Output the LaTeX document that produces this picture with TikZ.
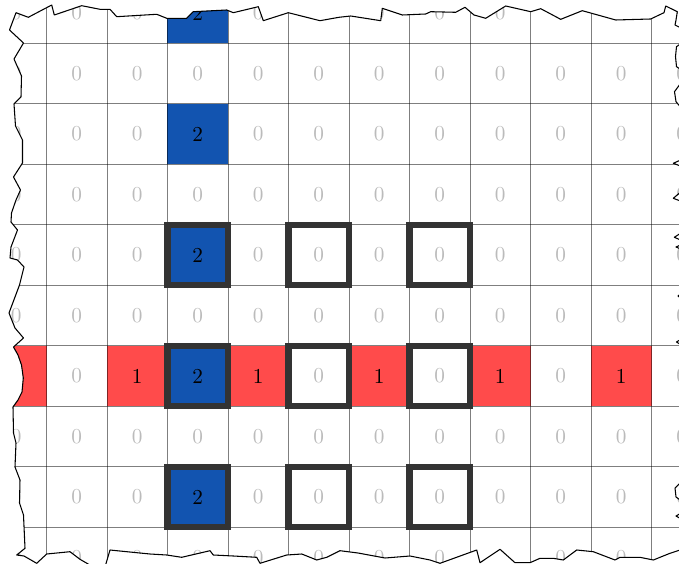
\documentclass[tikz,border=0pt]{standalone}
\definecolor{cred}{HTML}{FF4B4B}
\definecolor{cblue}{HTML}{1254B0}
\definecolor{czero}{HTML}{BBBBBB}
\definecolor{cbox}{HTML}{333333}
\def\bordpath{(16,12.7) -- (28.3,17.3) -- (51.7,5) -- (54.3,15) -- (81.7,5.7) -- (100,9.3) -- (110,9.3) -- (116.7,16.7) -- (156.7,14.3) -- (166.7,18.3) -- (186.7,18.3) -- (193.3,11.7) -- (226.7,10) -- (233.3,12.7) -- (258.3,6.7) -- (263.3,20.7) -- (288.3,12.7) -- (320,20.7) -- (339,17.3) -- (350.7,16) -- (380.7,20.7) -- (382.3,8.3) -- (402.3,15) -- (425.7,14) -- (430.7,11.7) -- (455.7,12.3) -- (465,7.3) -- (474,15) -- (485.7,18.3) -- (505.7,6) -- (530.7,11.7) -- (540.7,8.7) -- (560.7,19.3) -- (582.3,10.7) -- (615.7,20) -- (650.7,19) -- (664,12.7) -- (665.7,6) -- (677.3,11.7)
 -- (676,20) -- (675,25) -- (683,29) -- (683,42) -- (676.5,46.7) -- (675.5,56.7) -- (676.5,66.7) -- (683,71) -- (683,80) -- (674.5,91.7) -- (676,101.7) -- (683,110) -- (683,159) -- (673.3,163.3) -- (683,167) -- (683,190) -- (673.3,198.3) -- (683,202) -- (683,231.7) -- (674.3,237.3) -- (683,241) -- (683,244) -- (676,247) -- (683,250) -- (683,292) -- (678,296) -- (683,300) -- (683,338) -- (676.5,342) -- (683,346) -- (683,480) -- (675,488) -- (676,497) -- (683,502) -- (683,512) -- (676,516) -- (683,520) -- (683,549)
 -- (670,553.3) -- (653.3,560) -- (640,557.3) -- (620,557.3) -- (615,560) -- (593.3,551.7) -- (576.7,550) -- (563.3,560) -- (553.3,558.3) -- (540,558.3) -- (530,562.7) -- (515,562.7) -- (500,549.3) -- (480,562.7) -- (476.7,550) -- (440,563.3) -- (430,560) -- (410,556) -- (385,558) -- (358,553) -- (340,550.7) -- (326.7,557.3) -- (316.7,560) -- (301.7,554) -- (286.7,555) -- (260,563.3) -- (256.7,557.3) -- (233.3,556) -- (213.3,555) -- (210,550.7) -- (181.7,557.3) -- (166.7,555) -- (150,554) -- (126.7,551.7) -- (110,550) -- (105,567) -- (93.3,567) -- (80,559.3) -- (70,551.7) -- (46.7,554) -- (36.7,563.3) -- (24,556) -- (16.7,555) -- (25,548.3)
 -- (23.5,515) -- (19.5,503) -- (20,480) -- (15,467) -- (16,443) -- (13.5,433) -- (13,407) -- (18,400) -- (22,392) -- (23.3,378) -- (21.5,365) -- (18,355) -- (13.5,347) -- (23.5,338) -- (15,328) -- (9,313) -- (15,297) -- (19.5,285) -- (24,267) -- (17.5,260) -- (10,258) -- (11,247) -- (17.5,230) -- (11,222) -- (11.5,213) -- (16,200) -- (20.5,190) -- (13.5,177) -- (22.5,163) -- (22.5,140) -- (15.5,126) -- (14,104) -- (21,97) -- (21.5,76) -- (14,59) -- (23.5,43) -- (9.5,30) -- cycle}
\begin{document}
\begin{tikzpicture}[x=0.0165289cm,y=-0.0165289cm,
  cell/.style={minimum size=1cm,inner sep=0pt,outer sep=0pt,anchor=center},
  zero/.style={cell,text=czero},
  one/.style={cell,fill=cred,text=black},
  two/.style={cell,fill=cblue,text=black},
  gridline/.style={black,opacity=0.5,line width=0.4pt},
  hilite/.style={draw=cbox,line width=2.85pt},
  tornedge/.style={black,line width=0.5pt,line join=round}]
\useasboundingbox (0,0) rectangle (679,564);
\begin{scope}
\clip \bordpath;
\foreach \r in {0,...,9}{
  \foreach \c in {0,...,11}{
    \pgfmathtruncatemacro{\isblue}{(\c==3)&&(mod(\r,2)==0)}
    \pgfmathtruncatemacro{\isred}{(\r==6)&&(mod(\c,2)==0)}
    \ifnum\isblue=1 \def\st{two}\def\v{2}\else
      \ifnum\isred=1 \def\st{one}\def\v{1}\else
        \def\st{zero}\def\v{0}\fi\fi
    \node[\st] (n-\r-\c) at ({16.25+60.5*\c},{13.05+60.5*\r}) {\v};
  }
}
\foreach \c in {0,...,12}
  \draw[gridline] ({-14+60.5*\c},-25) -- ({-14+60.5*\c},600);
\foreach \r in {0,...,10}
  \draw[gridline] (-20,{-17.2+60.5*\r}) -- (700,{-17.2+60.5*\r});
\foreach \r in {4,6,8}
  \foreach \c in {3,5,7}
    \draw[hilite] (n-\r-\c.south west) rectangle (n-\r-\c.north east);
\end{scope}
\draw[tornedge] \bordpath;
\end{tikzpicture}
\end{document}
